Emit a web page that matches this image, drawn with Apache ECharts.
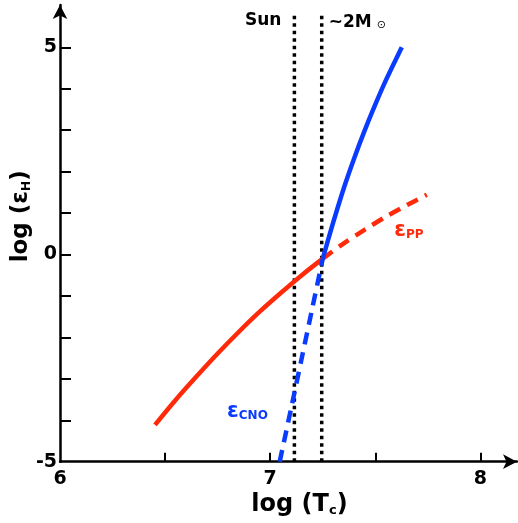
<!DOCTYPE html>
<html>
<head>
<meta charset="utf-8">
<title>Hydrogen burning rates</title>
<script src="https://cdn.jsdelivr.net/npm/echarts@6/dist/echarts.min.js"></script>
<style>
  html, body { margin: 0; padding: 0; background: #fff; }
  #chart { width: 518px; height: 523px; }
</style>
</head>
<body>
<div id="chart"></div>
<script>
// log(Tc) and log(eps_H) samples for the pp-chain and CNO-cycle curves
const ppSolidT = [6.452, 6.55, 6.65, 6.75, 6.85, 6.95, 7.05, 7.15, 7.25];
const ppSolidE = [-4.11, -3.51, -2.94, -2.39, -1.87, -1.38, -0.93, -0.50, -0.10];
const ppDashT  = [7.25, 7.35, 7.45, 7.55, 7.65, 7.745];
const ppDashE  = [-0.10, 0.27, 0.60, 0.91, 1.19, 1.44];
const cnoSolidT = [7.25, 7.30, 7.35, 7.40, 7.45, 7.50, 7.55, 7.626];
const cnoSolidE = [-0.10, 0.78, 1.60, 2.33, 3.00, 3.62, 4.20, 5.00];
const cnoDashT  = [7.045, 7.10, 7.15, 7.20, 7.25];
const cnoDashE  = [-5.00, -3.70, -2.50, -1.30, -0.10];

// central temperatures of the Sun and of a ~2 solar-mass star
const markerT = [7.115, 7.245];
const markerSpan = [-5, 5.83];

// axis ticks and labels
const xTicks = [6.5, 7, 7.5, 8];
const xLabels = [6, 7, 8];
const yTicks = [-4, -3, -2, -1, 0, 1, 2, 3, 4, 5];
const yLabels = [-5, 0, 5];

// text annotations: [log T, log eps]
const sunLabelAt = [7.115, 5.64];
const twoMLabelAt = [7.245, 5.64];
const ppLabelAt = [7.59, 0.594];
const cnoLabelAt = [6.795, -3.775];

const RED = '#ff2a0a';
const BLUE = '#0a3cff';
const FONT = 'DejaVu Sans';

const pairs = (xs, ys) => xs.map((x, i) => [x, ys[i]]);

const curve = (data, color, dashed) => ({
  type: 'line',
  data: data,
  smooth: 0.3,
  symbol: 'none',
  silent: true,
  z: 3,
  lineStyle: { color: color, width: 4.5, type: dashed ? [12, 8] : 'solid', cap: 'butt' }
});

const marker = (t) => ({
  type: 'line',
  data: markerSpan.map((e) => [t, e]),
  symbol: 'none',
  silent: true,
  z: 2,
  lineStyle: { color: '#000', width: 3.5, type: [3.5, 4], cap: 'butt' }
});

const note = (at, text, position, distance, rich) => ({
  type: 'scatter',
  data: [at],
  symbolSize: 0,
  silent: true,
  z: 4,
  itemStyle: { opacity: 1 },
  label: {
    show: true,
    position: position,
    distance: distance,
    formatter: text,
    rich: rich
  }
});

const axisName = { fontFamily: FONT, fontWeight: 'bold', fontSize: 23, color: '#000' };

const option = {
  animation: false,
  backgroundColor: '#fff',
  grid: { left: 60, right: 1, top: 5, bottom: 61.3, containLabel: false, outerBoundsMode: 'none' },
  xAxis: {
    type: 'value',
    min: 6,
    max: 8.174,
    name: '{a|log (T}{s|c}{a|)}',
    nameLocation: 'middle',
    nameGap: 27,
    nameMoveOverlap: false,
    nameTextStyle: {
      padding: [0, 0, 0, 22],
      rich: {
        a: Object.assign({}, axisName, { fontSize: 24, verticalAlign: 'bottom', lineHeight: 28 }),
        s: { fontFamily: FONT, fontWeight: 'bold', fontSize: 13, color: '#000', verticalAlign: 'bottom', lineHeight: 24 }
      }
    },
    splitLine: { show: false },
    axisLine: {
      onZero: false,
      symbol: ['none', 'arrow'],
      symbolSize: [11, 14],
      lineStyle: { color: '#000', width: 2.5 }
    },
    axisTick: { show: true, inside: true, length: 9, customValues: xTicks, lineStyle: { color: '#000', width: 2 } },
    axisLabel: {
      customValues: xLabels,
      margin: 8,
      fontFamily: FONT, fontWeight: 'bold', fontSize: 19, color: '#000'
    }
  },
  yAxis: {
    type: 'value',
    min: -5,
    max: 6.02,
    name: '{a|log (ε}{s|H}{a|)}',
    nameLocation: 'middle',
    nameRotate: 90,
    nameGap: 27.5,
    nameMoveOverlap: false,
    nameTextStyle: {
      padding: [0, 0, 0, 34],
      rich: {
        a: Object.assign({}, axisName, { verticalAlign: 'bottom', lineHeight: 28 }),
        s: { fontFamily: FONT, fontWeight: 'bold', fontSize: 12, color: '#000', verticalAlign: 'bottom', lineHeight: 24 }
      }
    },
    splitLine: { show: false },
    axisLine: {
      onZero: false,
      symbol: ['none', 'arrow'],
      symbolSize: [11, 14],
      lineStyle: { color: '#000', width: 2.5 }
    },
    axisTick: { show: true, inside: true, length: 11, customValues: yTicks, lineStyle: { color: '#000', width: 2 } },
    axisLabel: {
      customValues: yLabels,
      margin: 3,
      fontFamily: FONT, fontWeight: 'bold', fontSize: 19, color: '#000'
    }
  },
  series: [
    marker(markerT[0]),
    marker(markerT[1]),
    curve(pairs(ppSolidT, ppSolidE), RED, false),
    curve(pairs(ppDashT, ppDashE), RED, true),
    curve(pairs(cnoSolidT, cnoSolidE), BLUE, false),
    curve(pairs(cnoDashT, cnoDashE), BLUE, true),
    note(sunLabelAt, '{m|Sun}', 'left', 13, {
      m: { fontFamily: FONT, fontWeight: 'bold', fontSize: 17, color: '#000' }
    }),
    note(twoMLabelAt, '{m|~2M}{o|⊙}', 'right', 7, {
      m: { fontFamily: FONT, fontWeight: 'bold', fontSize: 17, color: '#000', verticalAlign: 'bottom', lineHeight: 20 },
      o: { fontFamily: FONT, fontSize: 11, color: '#000', padding: [0, 0, 0, 5], verticalAlign: 'bottom', lineHeight: 15 }
    }),
    note(ppLabelAt, '{e|ε}{s|PP}', 'right', 0, {
      e: { fontFamily: FONT, fontWeight: 'bold', fontSize: 21, color: RED, verticalAlign: 'bottom', lineHeight: 22 },
      s: { fontFamily: FONT, fontWeight: 'bold', fontSize: 12, color: RED, verticalAlign: 'bottom', lineHeight: 16 }
    }),
    note(cnoLabelAt, '{e|ε}{s|CNO}', 'right', 0, {
      e: { fontFamily: FONT, fontWeight: 'bold', fontSize: 21, color: BLUE, verticalAlign: 'bottom', lineHeight: 22 },
      s: { fontFamily: FONT, fontWeight: 'bold', fontSize: 12, color: BLUE, verticalAlign: 'bottom', lineHeight: 16 }
    })
  ]
};

const chart = echarts.init(document.getElementById('chart'), null, { renderer: 'canvas' });
chart.setOption(option);
</script>
</body>
</html>
